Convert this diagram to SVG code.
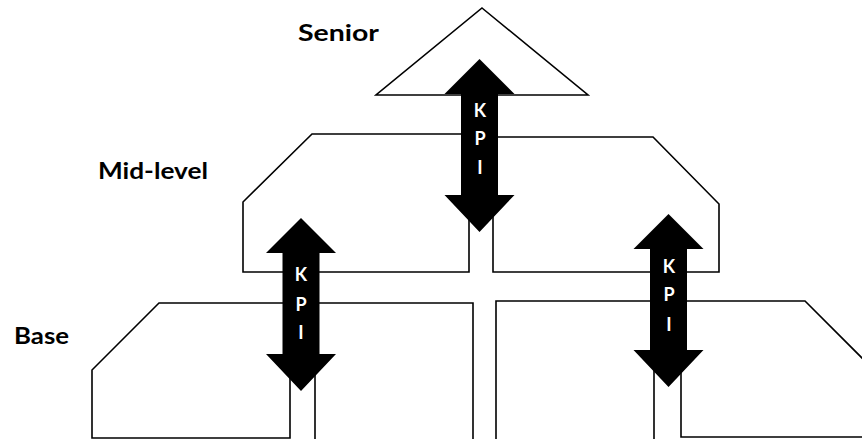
<svg xmlns="http://www.w3.org/2000/svg" xmlns:xlink="http://www.w3.org/1999/xlink" width="862" height="439" viewBox="0 0 862 439">
  <style>
    .tier { fill: #ffffff; stroke: #000000; stroke-width: 1.6; stroke-linejoin: miter; }
    .label { font-family: Lato, "Open Sans", "Liberation Sans", sans-serif; font-weight: 700; font-size: 23px; fill: #000000; }
    .kpi { fill: #000000; }
    .kpi-text { font-family: Lato, "Open Sans", "Liberation Sans", sans-serif; font-weight: 700; font-size: 18px; fill: #ffffff; text-anchor: middle; }
  </style>
  <defs>
    <!-- double-headed block arrow, origin at the upper tip -->
    <path id="dbl-arrow" d="M0,0 L35,35 L18.5,35 L18.5,136 L35,136 L0,173 L-35,136 L-18.5,136 L-18.5,35 L-35,35 Z"/>
  </defs>

  <rect width="862" height="439" fill="#ffffff"/>

  <!-- tier labels -->
  <g id="labels">
    <text class="label" x="298" y="41" textLength="81" lengthAdjust="spacingAndGlyphs">Senior</text>
    <text class="label" x="98" y="179" textLength="110" lengthAdjust="spacingAndGlyphs">Mid-level</text>
    <text class="label" x="14" y="344" textLength="55" lengthAdjust="spacingAndGlyphs">Base</text>
  </g>

  <!-- senior tier -->
  <g id="senior">
    <path class="tier" d="M482,8 L588,95 L376,95 Z"/>
  </g>

  <!-- mid-level tier, split in two halves -->
  <g id="mid-level">
    <path class="tier" d="M312,134 L469,134 L469,272 L243,272 L243,202 Z"/>
    <path class="tier" d="M493,137 L653,137 L719,204 L719,272 L493,272 Z"/>
  </g>

  <!-- base tier, left block -->
  <g id="base-left">
    <path class="tier" d="M159,303 L290,303 L290,438 L92,438 L92,370 Z"/>
    <path class="tier" d="M315,450 L315,303 L473,303 L473,450"/>
  </g>

  <!-- base tier, right block -->
  <g id="base-right">
    <path class="tier" d="M496,450 L496,301 L654,301 L654,450"/>
    <path class="tier" d="M870,437 L681,437 L681,301 L805,301 L870,366"/>
  </g>

  <!-- KPI arrows linking the tiers -->
  <g id="connectors">
    <g id="kpi-senior-mid">
      <use class="kpi" xlink:href="#dbl-arrow" href="#dbl-arrow" transform="translate(479.5,59)"/>
      <text class="kpi-text" x="480" y="117">K</text>
      <text class="kpi-text" x="480" y="145">P</text>
      <text class="kpi-text" x="480" y="174">I</text>
    </g>
    <g id="kpi-mid-base-left">
      <use class="kpi" xlink:href="#dbl-arrow" href="#dbl-arrow" transform="translate(301,218)"/>
      <text class="kpi-text" x="301" y="281">K</text>
      <text class="kpi-text" x="301" y="311">P</text>
      <text class="kpi-text" x="301" y="339">I</text>
    </g>
    <g id="kpi-mid-base-right">
      <use class="kpi" xlink:href="#dbl-arrow" href="#dbl-arrow" transform="translate(668.5,214)"/>
      <text class="kpi-text" x="669" y="273">K</text>
      <text class="kpi-text" x="669" y="301">P</text>
      <text class="kpi-text" x="669" y="331">I</text>
    </g>
  </g>
</svg>
